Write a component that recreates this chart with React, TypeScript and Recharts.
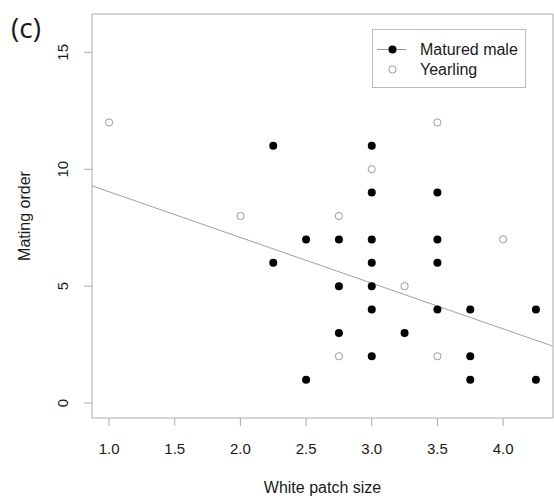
import React from 'react';
import {
  ScatterChart,
  Scatter,
  XAxis,
  YAxis,
  ReferenceArea,
  ReferenceLine,
  Legend,
} from 'recharts';

// Matured male (filled points): [white patch size, mating order]
const maturedMale = [
  { x: 2.25, y: 11 }, { x: 2.25, y: 6 },
  { x: 2.5, y: 7 }, { x: 2.5, y: 1 },
  { x: 2.75, y: 7 }, { x: 2.75, y: 5 }, { x: 2.75, y: 3 },
  { x: 3.0, y: 11 }, { x: 3.0, y: 9 }, { x: 3.0, y: 7 }, { x: 3.0, y: 6 },
  { x: 3.0, y: 5 }, { x: 3.0, y: 4 }, { x: 3.0, y: 2 },
  { x: 3.25, y: 3 },
  { x: 3.5, y: 9 }, { x: 3.5, y: 7 }, { x: 3.5, y: 6 }, { x: 3.5, y: 4 },
  { x: 3.75, y: 4 }, { x: 3.75, y: 2 }, { x: 3.75, y: 1 },
  { x: 4.25, y: 4 }, { x: 4.25, y: 1 },
];

// Yearling (open points)
const yearling = [
  { x: 1.0, y: 12 },
  { x: 2.0, y: 8 },
  { x: 2.75, y: 8 }, { x: 2.75, y: 2 },
  { x: 3.0, y: 10 },
  { x: 3.25, y: 5 },
  { x: 3.5, y: 12 }, { x: 3.5, y: 2 },
  { x: 4.0, y: 7 },
];

// Fitted regression line endpoints (read at the plot edges)
const fitLine = [
  { x: 0.87, y: 9.29 },
  { x: 4.38, y: 2.43 },
];

const xTicks = [1.0, 1.5, 2.0, 2.5, 3.0, 3.5, 4.0];
const yTicks = [0, 5, 10, 15];
const xDomain = [0.87, 4.38];
const yDomain = [-0.64, 16.64];

const FONT = '"Liberation Sans", Arial, sans-serif';
const FRAME = '#aaaaaa';
const TEXT = '#1a1a1a';

const XTick = (props: any) => {
  const { x, y, payload } = props;
  return (
    <text x={x} y={y} dy={26} textAnchor="middle" fontFamily={FONT} fontSize={15} fill={TEXT}>
      {Number(payload.value).toFixed(1)}
    </text>
  );
};

const YTick = (props: any) => {
  const { x, y, payload } = props;
  return (
    <text
      transform={`translate(${x - 14.5}, ${y}) rotate(-90)`}
      textAnchor="middle"
      fontFamily={FONT}
      fontSize={15}
      fill={TEXT}
    >
      {payload.value}
    </text>
  );
};

const FilledDot = (props: any) => <circle cx={props.cx} cy={props.cy} r={4} fill="#000" />;
const OpenDot = (props: any) => (
  <circle cx={props.cx} cy={props.cy} r={3.6} fill="#fff" stroke="#9a9a9a" strokeWidth={1} />
);

const LegendBox = () => (
  <div
    style={{
      width: 152,
      height: 57,
      border: '1px solid #bbbbbb',
      background: '#fff',
      fontFamily: FONT,
      fontSize: 16,
      color: TEXT,
      position: 'relative',
    }}
  >
    <svg width={40} height={57} style={{ position: 'absolute', left: 0, top: 0 }}>
      <line x1={4} x2={33} y1={19.5} y2={19.5} stroke="#999" strokeWidth={1} />
      <circle cx={19.5} cy={19.5} r={4} fill="#000" />
      <circle cx={19.5} cy={39.5} r={3.6} fill="#fff" stroke="#9a9a9a" strokeWidth={1} />
    </svg>
    <div style={{ position: 'absolute', left: 47, top: 10, lineHeight: '20px', whiteSpace: 'nowrap' }}>
      Matured male
    </div>
    <div style={{ position: 'absolute', left: 47, top: 30, lineHeight: '20px', whiteSpace: 'nowrap' }}>
      Yearling
    </div>
  </div>
);

const YTitle = (props: any) => {
  const vb = props.viewBox || { y: 14, height: 404 };
  const cy = vb.y + vb.height / 2;
  return (
    <text
      transform={`translate(29.5, ${cy}) rotate(-90)`}
      textAnchor="middle"
      fontFamily={FONT}
      fontSize={16}
      fill={TEXT}
    >
      Mating order
    </text>
  );
};

export default function App() {
  return (
    <div style={{ position: 'absolute', left: 0, top: 0, width: 554, height: 500, background: '#fff' }}>
      <ScatterChart width={554} height={500} margin={{ top: 14, right: 1, bottom: 0, left: 0 }}>
        <XAxis
          type="number"
          dataKey="x"
          domain={xDomain}
          ticks={xTicks}
          allowDataOverflow
          axisLine={false}
          tickLine={{ stroke: FRAME }}
          tickSize={8}
          tickMargin={2}
          tick={<XTick />}
          height={82}
          label={{ value: 'White patch size', position: 'insideBottom', offset: 7, fontSize: 16, fill: TEXT, fontFamily: FONT }}
        />
        <YAxis
          type="number"
          dataKey="y"
          domain={yDomain}
          ticks={yTicks}
          allowDataOverflow
          axisLine={false}
          tickLine={{ stroke: FRAME }}
          tickSize={8}
          tickMargin={2}
          tick={<YTick />}
          width={92}
          label={<YTitle />}
        />
        <ReferenceArea
          x1={xDomain[0]}
          x2={xDomain[1]}
          y1={yDomain[0]}
          y2={yDomain[1]}
          fill="none"
          fillOpacity={0}
          stroke={FRAME}
          strokeWidth={1}
          ifOverflow="visible"
        />
        <ReferenceLine
          segment={fitLine}
          stroke="#a0a0a0"
          strokeWidth={1}
          ifOverflow="visible"
        />
        <Scatter name="Matured male" data={maturedMale} shape={<FilledDot />} isAnimationActive={false} />
        <Scatter name="Yearling" data={yearling} shape={<OpenDot />} isAnimationActive={false} />
        <Legend
          layout="horizontal"
          verticalAlign="middle"
          align="center"
          content={<LegendBox />}
          wrapperStyle={{ left: 372, top: 29, width: 154, height: 59 }}
        />
      </ScatterChart>
      <div
        style={{
          position: 'absolute',
          left: 11,
          top: 8,
          fontFamily: '"Open Sans", sans-serif',
          fontSize: 28,
          lineHeight: '38px',
          color: TEXT,
        }}
      >
        (c)
      </div>
    </div>
  );
}
